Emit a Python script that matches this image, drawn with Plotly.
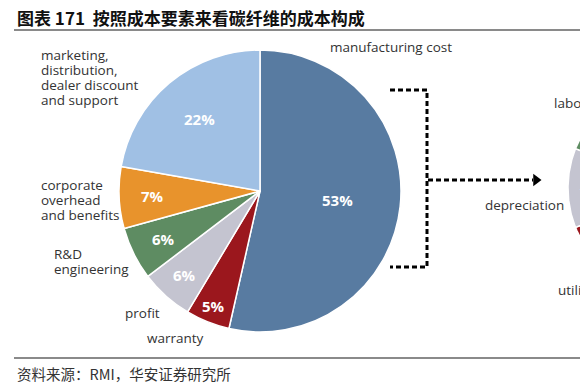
import numpy as np
import plotly.graph_objects as go

W, H = 588, 388
OFF = 8  # page body margin: figure sits 8px in from the window corner

title_text = "图表 171  按照成本要素来看碳纤维的成本构成"
source_text = "资料来源：RMI，华安证券研究所"

# main pie: cost structure by cost element
cost_labels = ["manufacturing cost", "warranty", "profit", "R&D engineering",
               "corporate overhead and benefits",
               "marketing, distribution, dealer discount and support"]
cost_values = [53, 5, 6, 6, 7, 22]
cost_text = ["53%", "5%", "6%", "6%", "7%", "22%"]
cost_colors = ["#587BA1", "#9B171D", "#C4C4D0", "#5E8C62", "#E8932C", "#A0C0E4"]
cost_label_lines = [["manufacturing cost"], ["warranty"], ["profit"],
                    ["R&D", "engineering"],
                    ["corporate", "overhead", "and benefits"],
                    ["marketing,", "distribution,", "dealer discount", "and support"]]
cost_text_rfrac = [0.55, 0.88, 0.80, 0.76, 0.76, 0.67]

# second pie (manufacturing cost breakdown, mostly outside the picture)
mfg_labels = ["materials", "utilities", "depreciation", "labor", "other"]
mfg_values = [55, 14, 12, 12, 7]
mfg_text = ["55%", "14%", "12%", "12%", "7%"]
mfg_colors = ["#587BA1", "#9B171D", "#C4C4D0", "#5E8C62", "#E8932C"]

LABEL_FONT = dict(family="Open Sans", size=13.5, color="#333333")
PCT_FONT = dict(family="Open Sans", size=15, color="white", weight="bold")


def pxx(wx):
    return (wx - OFF) / W


def pxy(wy):
    return 1 - (wy - OFF) / H


fig = go.Figure()
annotations = []

# main pie geometry (window pixels)
cx, cy, r = 260, 191, 141
fig.add_trace(go.Pie(
    labels=cost_labels, values=cost_values, text=cost_text,
    textinfo="none",
    marker=dict(colors=cost_colors, line=dict(color="white", width=1.5)),
    sort=False, direction="clockwise", rotation=0, showlegend=False,
    hoverinfo="label+text",
    domain=dict(x=[pxx(cx - r), pxx(cx + r)], y=[pxy(cy + r), pxy(cy - r)]),
))
ctot = float(sum(cost_values))
ccum = np.concatenate([[0], np.cumsum(cost_values)]) / ctot * 2 * np.pi
cmid = (ccum[:-1] + ccum[1:]) / 2
crf = np.array(cost_text_rfrac) * r
for t, tx, ty in zip(cost_text, cx + crf * np.sin(cmid), cy - crf * np.cos(cmid)):
    annotations.append(dict(x=float(tx), y=float(ty), xref="x", yref="y", text=t,
                            showarrow=False, xanchor="center", yanchor="middle", font=PCT_FONT))

# second pie drawn as filled wedges in window-pixel coordinates
c2x, c2y, r2 = 675, 188, 107
tot = float(sum(mfg_values))
cum = np.concatenate([[0], np.cumsum(mfg_values)]) / tot * 2 * np.pi
for i, lab in enumerate(mfg_labels):
    th = np.linspace(cum[i], cum[i + 1], 60)
    xs = [c2x] + (c2x + r2 * np.sin(th)).tolist() + [c2x]
    ys = [c2y] + (c2y - r2 * np.cos(th)).tolist() + [c2y]
    fig.add_trace(go.Scatter(x=xs, y=ys, mode="lines", fill="toself",
                             fillcolor=mfg_colors[i], line=dict(color="white", width=1.5),
                             name=lab, showlegend=False, hoverinfo="name"))
mid = (cum[:-1] + cum[1:]) / 2
for t, tx, ty in zip(mfg_text, c2x + 0.75 * r2 * np.sin(mid), c2y - 0.75 * r2 * np.cos(mid) + 3):
    annotations.append(dict(x=float(tx), y=float(ty), xref="x", yref="y", text=t,
                            showarrow=False, xanchor="center", yanchor="middle", font=PCT_FONT))

# dashed bracket and arrow
bk = dict(color="black", width=3, dash="5px,3px")
fig.add_trace(go.Scatter(x=[390, 427, 427, 390], y=[90, 90, 267, 267], mode="lines",
                         line=bk, showlegend=False, hoverinfo="skip"))
fig.add_trace(go.Scatter(x=[428, 533], y=[180, 180], mode="lines",
                         line=bk, showlegend=False, hoverinfo="skip"))
fig.add_trace(go.Scatter(x=[536], y=[180], mode="markers",
                         marker=dict(symbol="triangle-right", size=11, color="black"),
                         showlegend=False, hoverinfo="skip"))

# main pie labels: (left x, first-line y) in window pixels
cost_label_pos = [(328, 47), (145, 338), (123, 313), (52, 254), (39, 185), (39, 55)]
for lines, (lx, ly) in zip(cost_label_lines, cost_label_pos):
    for k, t in enumerate(lines):
        annotations.append(dict(x=lx, y=ly + 15 * k, xref="x", yref="y", text=t,
                                showarrow=False, xanchor="left", yanchor="middle",
                                font=LABEL_FONT))
# second pie labels
mfg_label_pos = {"labor": (552, 103), "depreciation": (483, 205), "utilities": (556, 290)}
for lab, (lx, ly) in mfg_label_pos.items():
    annotations.append(dict(x=lx, y=ly, xref="x", yref="y", text=lab, showarrow=False,
                            xanchor="left", yanchor="middle", font=LABEL_FONT))

annotations.append(dict(x=pxx(15), y=pxy(17), xref="paper", yref="paper", text=title_text,
                        showarrow=False, xanchor="left", yanchor="middle",
                        font=dict(family="Noto Sans CJK SC", size=17, color="#111111", weight="bold")))
annotations.append(dict(x=pxx(15), y=pxy(373), xref="paper", yref="paper", text=source_text,
                        showarrow=False, xanchor="left", yanchor="middle",
                        font=dict(family="Noto Sans CJK SC", size=14.5, color="#333333")))

shapes = [
    dict(type="line", xref="paper", yref="paper", x0=pxx(14), x1=1, y0=pxy(30), y1=pxy(30),
         line=dict(color="#8a8a8a", width=2)),
    dict(type="line", xref="paper", yref="paper", x0=pxx(14), x1=1, y0=pxy(358), y1=pxy(358),
         line=dict(color="#8a8a8a", width=2)),
]

fig.update_layout(
    width=W, height=H, margin=dict(l=0, r=0, t=0, b=0),
    paper_bgcolor="white", plot_bgcolor="rgba(0,0,0,0)",
    xaxis=dict(range=[OFF, W + OFF], visible=False, fixedrange=True),
    yaxis=dict(range=[H + OFF, OFF], visible=False, fixedrange=True),
    annotations=annotations, shapes=shapes, showlegend=False,
)

fig.write_html("out.html")
